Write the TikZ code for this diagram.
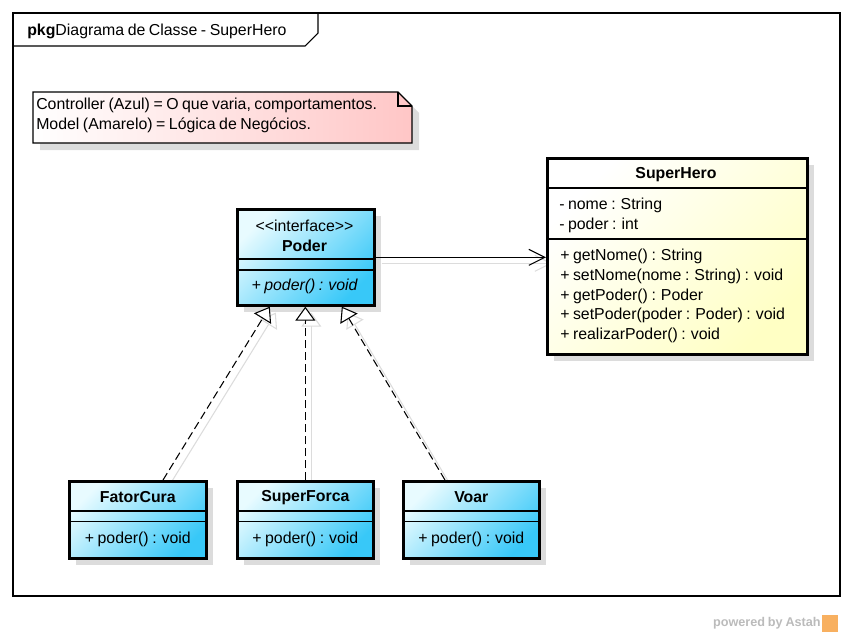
\documentclass[tikz,border=0pt]{standalone}
\usepackage{fontspec}
\setmainfont{Liberation Sans}[WordSpace=0.8]
\usetikzlibrary{arrows.meta,shadows,backgrounds,calc}

\definecolor{azulclaro}{HTML}{E8FBFF}
\definecolor{azul}{HTML}{38C8F8}
\definecolor{amarelo}{HTML}{FFFFC4}
\definecolor{rosa}{HTML}{FFC6C6}
\definecolor{sombra}{HTML}{DCDCDC}
\definecolor{astah}{HTML}{BBBBBB}
\definecolor{laranja}{HTML}{F8B060}

\tikzset{
  classe/.style={draw,line width=2pt,anchor=north west,inner sep=0pt,
    drop shadow={shadow xshift=5pt,shadow yshift=-5pt,fill=sombra,opacity=1}},
  controller/.style={classe,top color=azulclaro,bottom color=azul,shading angle=45},
  model/.style={classe,top color=white,bottom color=amarelo,shading angle=45},
  texto/.style={font=\fontsize{11.9}{14}\selectfont,inner sep=0pt},
  nome/.style={texto,font=\fontsize{11.9}{14}\selectfont\bfseries},
  divisa/.style={line width=0.8pt},
  realiza/.style={dash pattern=on 6pt off 3pt,line width=0.8pt,
    -{Triangle[open,length=10.5pt,width=15pt,fill=white]}},
  associa/.style={line width=0.8pt,-{Straight Barb[length=12pt,width=12pt]}},
  sombralinha/.style={draw=sombra,solid,transform canvas={shift={(4.5pt,-4.5pt)}}}
}

\begin{document}
\begin{tikzpicture}[x=0.75pt,y=-0.75pt]
    \useasboundingbox (0,0) rectangle (853,636);

    % pacote
    \draw[line width=0.8pt] (13,13) rectangle (840,596);
    \draw[line width=0.8pt] (13,46) -- (305,46) -- (318,33) -- (318,13);
    \node[texto,anchor=west] (titulo) at (27,31)
    {\textbf{pkg}Diagrama de Classe - SuperHero};

    % nota
    \fill[sombra] (40,99) -- (405,99) -- (419,113) -- (419,150) -- (40,150) -- cycle;
    \shade[left color=white,right color=rosa]
    (33,92) -- (398,92) -- (412,106) -- (412,143) -- (33,143) -- cycle;
    \draw[line width=0.8pt]
    (33,92) -- (398,92) -- (412,106) -- (412,143) -- (33,143) -- cycle;
    \draw[line width=0.8pt] (398,92) -- (398,106) -- (412,106);
    \node[texto,anchor=west] (nota1) at (36,105.5)
    {Controller (Azul) = O que varia, comportamentos.};
    \node[texto,anchor=west] (nota2) at (36,125.5)
    {Model (Amarelo) = Lógica de Negócios.};

    % interface Poder
    \node[controller,minimum width=102.75pt,minimum height=72pt] (poder) at (236,208) {};
    \draw[divisa] (poder.west |- 0,259) -- (poder.east |- 0,259);
    \draw[divisa] (poder.west |- 0,270) -- (poder.east |- 0,270);
    \node[texto] (poder-estereotipo) at (304.5,225.5)
    {\textless\kern0pt\textless interface\textgreater\kern0pt\textgreater};
    \node[nome] (poder-nome) at (304.5,245.5) {Poder};
    \node[texto] (poder-metodo) at (304.5,286) {\itshape + poder() : void};

    % classe SuperHero
    \node[model,minimum width=195pt,minimum height=147pt] (superhero) at (546,157) {};
    \draw[divisa] (superhero.west |- 0,188) -- (superhero.east |- 0,188);
    \draw[divisa] (superhero.west |- 0,239) -- (superhero.east |- 0,239);
    \node[nome] (superhero-nome) at (676,175) {SuperHero};
    \node[texto,anchor=west] (atributo1) at (559,205) {- nome : String};
    \node[texto,anchor=west] (atributo2) at (559,225.5) {- poder : int};
    \node[texto,anchor=west] (metodo1) at (560,256.5) {+ getNome() : String};
    \node[texto,anchor=west] (metodo2) at (560,276.5) {+ setNome(nome : String) : void};
    \node[texto,anchor=west] (metodo3) at (560,296) {+ getPoder() : Poder};
    \node[texto,anchor=west] (metodo4) at (560,315.5) {+ setPoder(poder : Poder) : void};
    \node[texto,anchor=west] (metodo5) at (560,335.5) {+ realizarPoder() : void};

    % classes que realizam Poder
    \node[controller,minimum width=102.75pt,minimum height=57.75pt] (fatorcura) at (68,480) {};
    \node[controller,minimum width=102pt,minimum height=57.75pt] (superforca) at (236,480) {};
    \node[controller,minimum width=102pt,minimum height=57.75pt] (voar) at (402,480) {};
    \foreach \c/\n in {fatorcura/FatorCura,superforca/SuperForca,voar/Voar}{
        \draw[divisa] (\c.west |- 0,511) -- (\c.east |- 0,511);
        \draw[divisa] (\c.west |- 0,521.5) -- (\c.east |- 0,521.5);
        \node[nome] (\c-nome) at (\c.center |- 0,497.5) {\n};
        \node[texto] (\c-metodo) at (\c.center |- 0,539) {+ poder() : void};
    }

    % sombras das ligacoes
    \begin{scope}[on background layer]
        \draw[associa,sombralinha] (poder.east) -- (poder.east -| superhero.west);
        \draw[realiza,sombralinha] ($(fatorcura.north west)+(95,0)$) -- ($(poder.south)+(-36,0)$);
        \draw[realiza,sombralinha] (superforca.north) -- (superforca.north |- poder.south);
        \draw[realiza,sombralinha] ($(voar.north west)+(43,0)$) -- ($(poder.south)+(36,0)$);
    \end{scope}

    % ligacoes
    \draw[associa] (poder.east) -- (poder.east -| superhero.west);
    \draw[realiza] ($(fatorcura.north west)+(95,0)$) -- ($(poder.south)+(-36,0)$);
    \draw[realiza] (superforca.north) -- (superforca.north |- poder.south);
    \draw[realiza] ($(voar.north west)+(43,0)$) -- ($(poder.south)+(36,0)$);

    % marca
    \node[font=\fontsize{9.5}{11}\selectfont\bfseries,text=astah,anchor=east,inner sep=0pt]
    (marca) at (821,623) {powered by Astah};
    \fill[laranja] (822,615) rectangle (838,632);
\end{tikzpicture}
\end{document}
